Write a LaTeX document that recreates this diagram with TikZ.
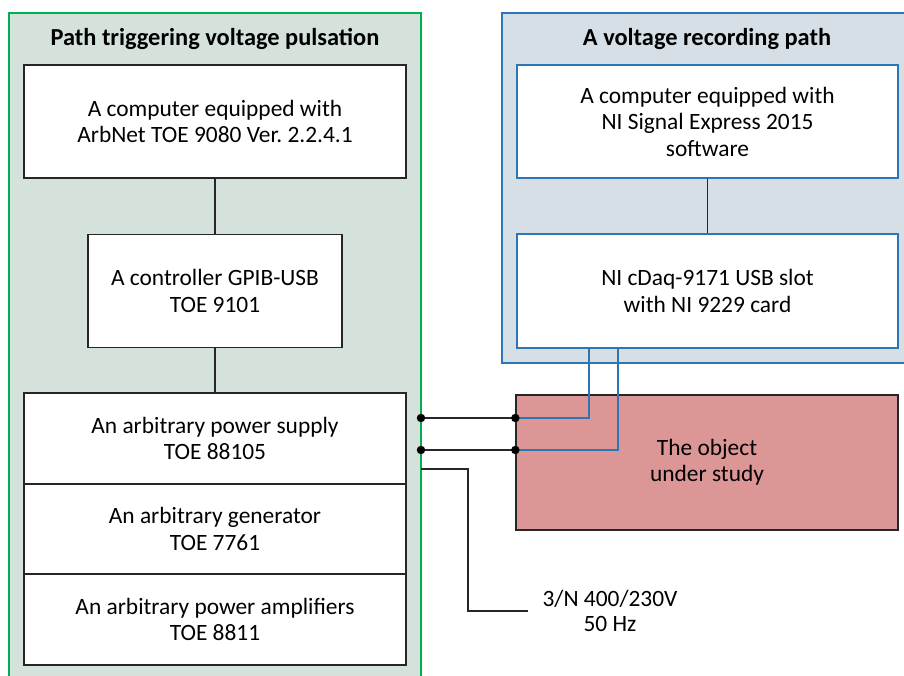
\documentclass[tikz,border=0pt]{standalone}
\usepackage{fontspec}
\setmainfont{Carlito}
\definecolor{leftfill}{RGB}{213,226,219}
\definecolor{rightfill}{RGB}{213,223,229}
\definecolor{blueborder}{RGB}{46,117,182}
\definecolor{redfill}{RGB}{221,150,150}
\definecolor{greenborder}{RGB}{0,176,80}
\begin{document}
\frenchspacing
\begin{tikzpicture}[x=1pt,y=-1pt,
  panelL/.style={draw=greenborder, fill=leftfill, line width=1.2pt},
  panelR/.style={draw=blueborder, fill=rightfill, line width=1.2pt},
  bbox/.style={draw=black!85, fill=white, line width=1.3pt, align=center, inner sep=0pt, font=\fontsize{23.4}{26.5}\selectfont},
  rbox/.style={draw=blueborder, fill=white, line width=1.3pt, align=center, inner sep=0pt, font=\fontsize{23.4}{26.5}\selectfont},
  title/.style={font=\bfseries\fontsize{24.4}{30}\selectfont, inner sep=0pt},
  conn/.style={draw=black!85, line width=1.3pt},
  bconn/.style={draw=blueborder, line width=1.2pt},
  dot/.style={circle, fill=black, inner sep=0pt, minimum size=8.5pt}
]
\useasboundingbox (0,0) rectangle (904,675);
% panels
\draw[panelL] (9,13) rectangle (421,690);
\draw[panelR] (502,13) rectangle (915,363);
\node[title] (tl) at (215,39) {Path triggering voltage pulsation};
\node[title] (tr) at (707,39) {A voltage recording path};
% left boxes
\node[bbox, minimum width=382pt, minimum height=113pt] (pc1) at (215,121.5) {A computer equipped with\\ArbNet TOE 9080 Ver. 2.2.4.1};
\node[bbox, minimum width=254pt, minimum height=113pt] (gpib) at (215,291) {A controller GPIB-USB\\TOE 9101};
\node[bbox, minimum width=382pt, minimum height=91pt] (ps) at (215,438.5) {An arbitrary power supply\\TOE 88105};
\node[bbox, minimum width=382pt, minimum height=90pt] (gen) at (215,529) {An arbitrary generator\\TOE 7761};
\node[bbox, minimum width=382pt, minimum height=91pt] (amp) at (215,619.5) {An arbitrary power amplifiers\\TOE 8811};
% right boxes
\node[rbox, minimum width=381pt, minimum height=113pt] (pc2) at (707.5,121.5) {A computer equipped with\\NI Signal Express 2015\\software};
\node[rbox, minimum width=381pt, minimum height=114pt] (daq) at (707.5,291) {NI cDaq-9171 USB slot\\with NI 9229 card};
% object
\node[bbox, fill=redfill, minimum width=382pt, minimum height=135pt] (obj) at (707,462.5) {The object\\under study};
% mains label
\node[font=\fontsize{23.4}{25.5}\selectfont, align=center, inner sep=0pt] (mains) at (610,611) {3/N 400/230V\\50 Hz};
% connectors
\draw[conn] (pc1.south) -- (gpib.north);
\draw[conn] (gpib.south) -- (ps.north);
\draw[conn] (pc2.south) -- (daq.north);
\coordinate (p1) at (421,418);
\coordinate (p2) at (421,450);
\coordinate (m0) at (421,469);
\coordinate (m1) at (528,611);
\draw[conn] (p1) -- (p1 -| obj.west);
\draw[conn] (p2) -- (p2 -| obj.west);
\draw[bconn] (daq.south -| 589,0) |- (p1 -| obj.west);
\draw[bconn] (daq.south -| 618,0) |- (p2 -| obj.west);
\draw[conn] (m0) -- (468,469) |- (m1);
\node[dot] (d1) at (p1) {};
\node[dot] (d2) at (p2) {};
\node[dot] (d3) at (p1 -| obj.west) {};
\node[dot] (d4) at (p2 -| obj.west) {};
\end{tikzpicture}
\end{document}
